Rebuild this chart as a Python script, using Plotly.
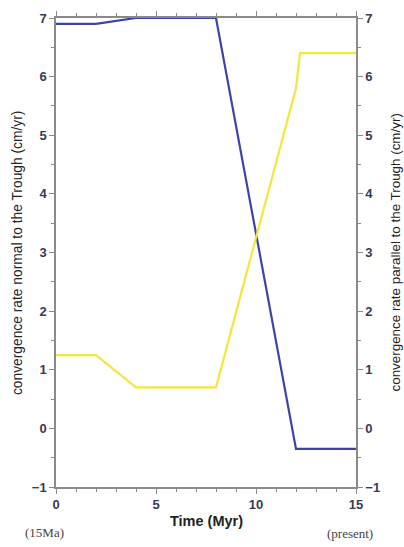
import plotly.graph_objects as go

# Plate convergence history, 15 Ma to present
time_myr = [0, 2, 4, 8, 12, 15]
rate_normal = [6.9, 6.9, 7.0, 7.0, -0.35, -0.35]

time_par = [0, 2, 4, 8, 12, 12.2, 15]
rate_parallel = [1.25, 1.25, 0.7, 0.7, 5.8, 6.4, 6.4]

x_ticks = [0, 5, 10, 15]
y_ticks = [-1, 0, 1, 2, 3, 4, 5, 6, 7]

BLUE = "#3c45a6"
YELLOW = "#f3e63c"
AXIS = "#8a8a8a"
TICKFONT = dict(family="Liberation Sans, Arial", size=13, color="#3a3a50", weight="bold")

fig = go.Figure()
fig.add_trace(go.Scatter(x=time_myr, y=rate_normal, mode="lines",
                         line=dict(color=BLUE, width=2.2), yaxis="y"))
fig.add_trace(go.Scatter(x=time_par, y=rate_parallel, mode="lines",
                         line=dict(color=YELLOW, width=2.2), yaxis="y2"))

common_y = dict(range=[-1, 7], tickvals=y_ticks, ticks="outside", ticklen=5,
                tickcolor=AXIS, showline=True, linecolor=AXIS, linewidth=1.5,
                showgrid=False, zeroline=False, tickfont=TICKFONT,
                minor=dict(dtick=0.5, ticks="outside", ticklen=3, tickcolor=AXIS))

fig.update_layout(
    width=404, height=547,
    margin=dict(l=56, r=48, t=18, b=60),
    paper_bgcolor="white", plot_bgcolor="white",
    showlegend=False,
    xaxis=dict(range=[0, 15], tickvals=x_ticks, ticks="outside", ticklen=5,
               tickcolor=AXIS, showline=True, linecolor=AXIS, linewidth=1.5,
               mirror="ticks", showgrid=False, zeroline=False, tickfont=TICKFONT,
               minor=dict(dtick=1, ticks="outside", ticklen=3, tickcolor=AXIS)),
    yaxis=dict(side="left", **common_y),
    yaxis2=dict(side="right", overlaying="y", **common_y),
)

ann_font = dict(family="Liberation Sans, Arial", size=13.8, color="#222")
fig.add_annotation(text="convergence rate normal to the Trough (cm/yr)",
                   xref="paper", yref="paper", x=-0.128, y=0.5, textangle=-90,
                   showarrow=False, font=ann_font, xanchor="center", yanchor="middle")
fig.add_annotation(text="convergence rate parallel to the Trough (cm/yr)",
                   xref="paper", yref="paper", x=1.13, y=0.5, textangle=-90,
                   showarrow=False, font=dict(ann_font, size=13.4),
                   xanchor="center", yanchor="middle")
fig.add_annotation(text="<b>Time (Myr)</b>", xref="paper", yref="paper",
                   x=0.5, y=-0.072, showarrow=False, yanchor="middle",
                   font=dict(family="Liberation Sans, Arial", size=14.5, color="#222"))
fig.add_annotation(text="(15Ma)", xref="paper", yref="paper", x=-0.04, y=-0.098,
                   showarrow=False, xanchor="center", yanchor="middle",
                   font=dict(family="Liberation Serif, Times New Roman", size=13, color="#444"))
fig.add_annotation(text="(present)", xref="paper", yref="paper", x=0.98, y=-0.1,
                   showarrow=False, xanchor="center", yanchor="middle",
                   font=dict(family="Liberation Serif, Times New Roman", size=13, color="#444"))

fig.write_html("out.html")
